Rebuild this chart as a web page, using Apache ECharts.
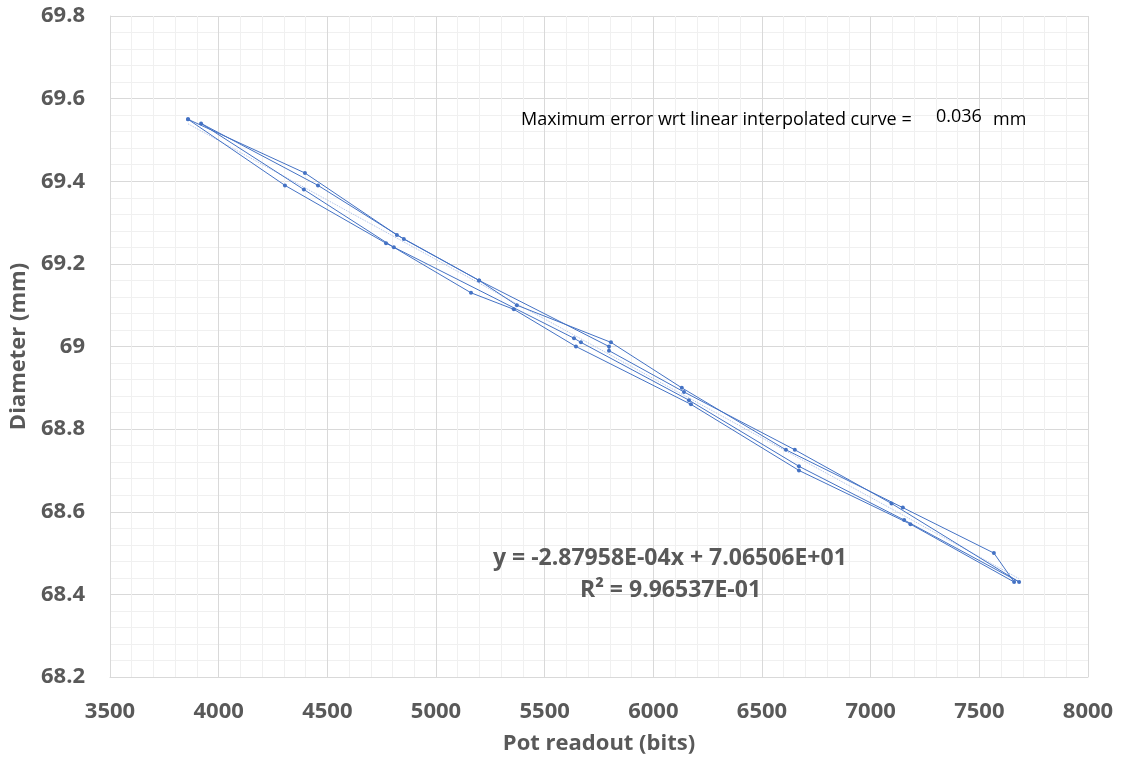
<!DOCTYPE html>
<html>
<head>
<meta charset="utf-8">
<script src="https://cdn.jsdelivr.net/npm/echarts@6/dist/echarts.min.js"></script>
<style>html,body{margin:0;padding:0;background:#fff}#c{width:1122px;height:763px}</style>
</head>
<body>
<div id="c"></div>
<script>
// Measurement sequence (pot readout in bits, diameter in mm)
var potBits = [3859, 4397, 4820, 5198, 5372, 5805, 6131, 6610, 7148, 7567, 7660,
               7183, 6670, 6173, 5644, 5358, 5161, 4806, 4392, 3919,
               4457, 4852, 5198, 5796, 5796, 6141, 6651, 7096, 7683,
               7154, 6670, 6164, 5667, 5635, 4770, 4305, 3859];
var diameterMm = [69.55, 69.42, 69.27, 69.16, 69.10, 69.01, 68.90, 68.75, 68.61, 68.50, 68.43,
                  68.57, 68.70, 68.86, 69.00, 69.09, 69.13, 69.24, 69.38, 69.54,
                  69.39, 69.26, 69.16, 69.00, 68.99, 68.89, 68.75, 68.62, 68.43,
                  68.58, 68.71, 68.87, 69.01, 69.02, 69.25, 69.39, 69.55];
// Linear trendline endpoints (y = -2.87958E-04x + 70.6506)
var trendX = [3859, 7683];
var trendY = [69.539, 68.438];
var xTicks = {min: 3500, max: 8000, step: 500};
var yTicks = {min: 68.2, max: 69.8, step: 0.2};
var equationText = 'y = -2.87958E-04x + 7.06506E+01';
var r2Text = 'R² = 9.96537E-01';
var errLabel = 'Maximum error wrt linear interpolated curve =';
var errValue = '0.036';
var errUnit = 'mm';

var pts = potBits.map(function (x, i) { return [x, diameterMm[i]]; });
var trend = trendX.map(function (x, i) { return [x, trendY[i]]; });

var chart = echarts.init(document.getElementById('c'));
var labelStyle = {color: '#595959', fontFamily: 'Open Sans', fontWeight: 'bold', fontSize: 22};
var nameStyle = {color: '#595959', fontFamily: 'Open Sans', fontWeight: 'bold', fontSize: 22};
function note(s, l, t, size, color, weight) {
  return {text: s, left: l, top: t, padding: 0, z: 10,
    textStyle: {color: color, fontSize: size, lineHeight: size, fontFamily: 'Open Sans', fontWeight: weight}};
}
chart.setOption({
  animation: false,
  title: [
    note(errLabel, 521, 111, 18, '#000', 'normal'),
    note(errValue, 936, 108, 18, '#000', 'normal'),
    note(errUnit, 993, 111, 18, '#000', 'normal'),
    note(equationText, 493, 547, 23, '#595959', 'bold'),
    note(r2Text, 580, 579, 23, '#595959', 'bold')
  ],
  grid: {left: 110, right: 34, top: 16, bottom: 86, containLabel: false, outerBoundsMode: 'none'},
  xAxis: {
    type: 'value', min: xTicks.min, max: xTicks.max, interval: xTicks.step,
    name: 'Pot readout (bits)', nameLocation: 'middle', nameGap: 56,
    nameTextStyle: nameStyle,
    axisLine: {show: true, lineStyle: {color: '#d9d9d9'}},
    axisTick: {show: false},
    axisLabel: Object.assign({margin: 24, formatter: function (v) { return String(v); }}, labelStyle),
    splitLine: {show: true, lineStyle: {color: '#d9d9d9', width: 1}},
    minorTick: {show: false, splitNumber: 5},
    minorSplitLine: {show: true, lineStyle: {color: '#f0f0f0', width: 1}}
  },
  yAxis: {
    type: 'value', min: yTicks.min, max: yTicks.max, interval: yTicks.step,
    name: 'Diameter (mm)', nameLocation: 'middle', nameGap: 76, nameRotate: 90,
    nameTextStyle: nameStyle,
    axisLine: {show: true, lineStyle: {color: '#d9d9d9'}},
    axisTick: {show: false},
    axisLabel: Object.assign({margin: 25, formatter: function (v) { return String(Number(v.toFixed(1))); }}, labelStyle),
    splitLine: {show: true, lineStyle: {color: '#d9d9d9', width: 1}},
    minorTick: {show: false, splitNumber: 5},
    minorSplitLine: {show: true, lineStyle: {color: '#f0f0f0', width: 1}}
  },
  series: [
    {
      type: 'line', data: trend, symbol: 'none', silent: true, z: 1,
      lineStyle: {color: '#a9bde6', width: 1, type: 'dotted'}
    },
    {
      type: 'line', data: pts, symbol: 'circle', symbolSize: 4, z: 2,
      lineStyle: {color: '#4472c4', width: 1},
      itemStyle: {color: '#4472c4'}
    }
  ]
});
</script>
</body>
</html>
